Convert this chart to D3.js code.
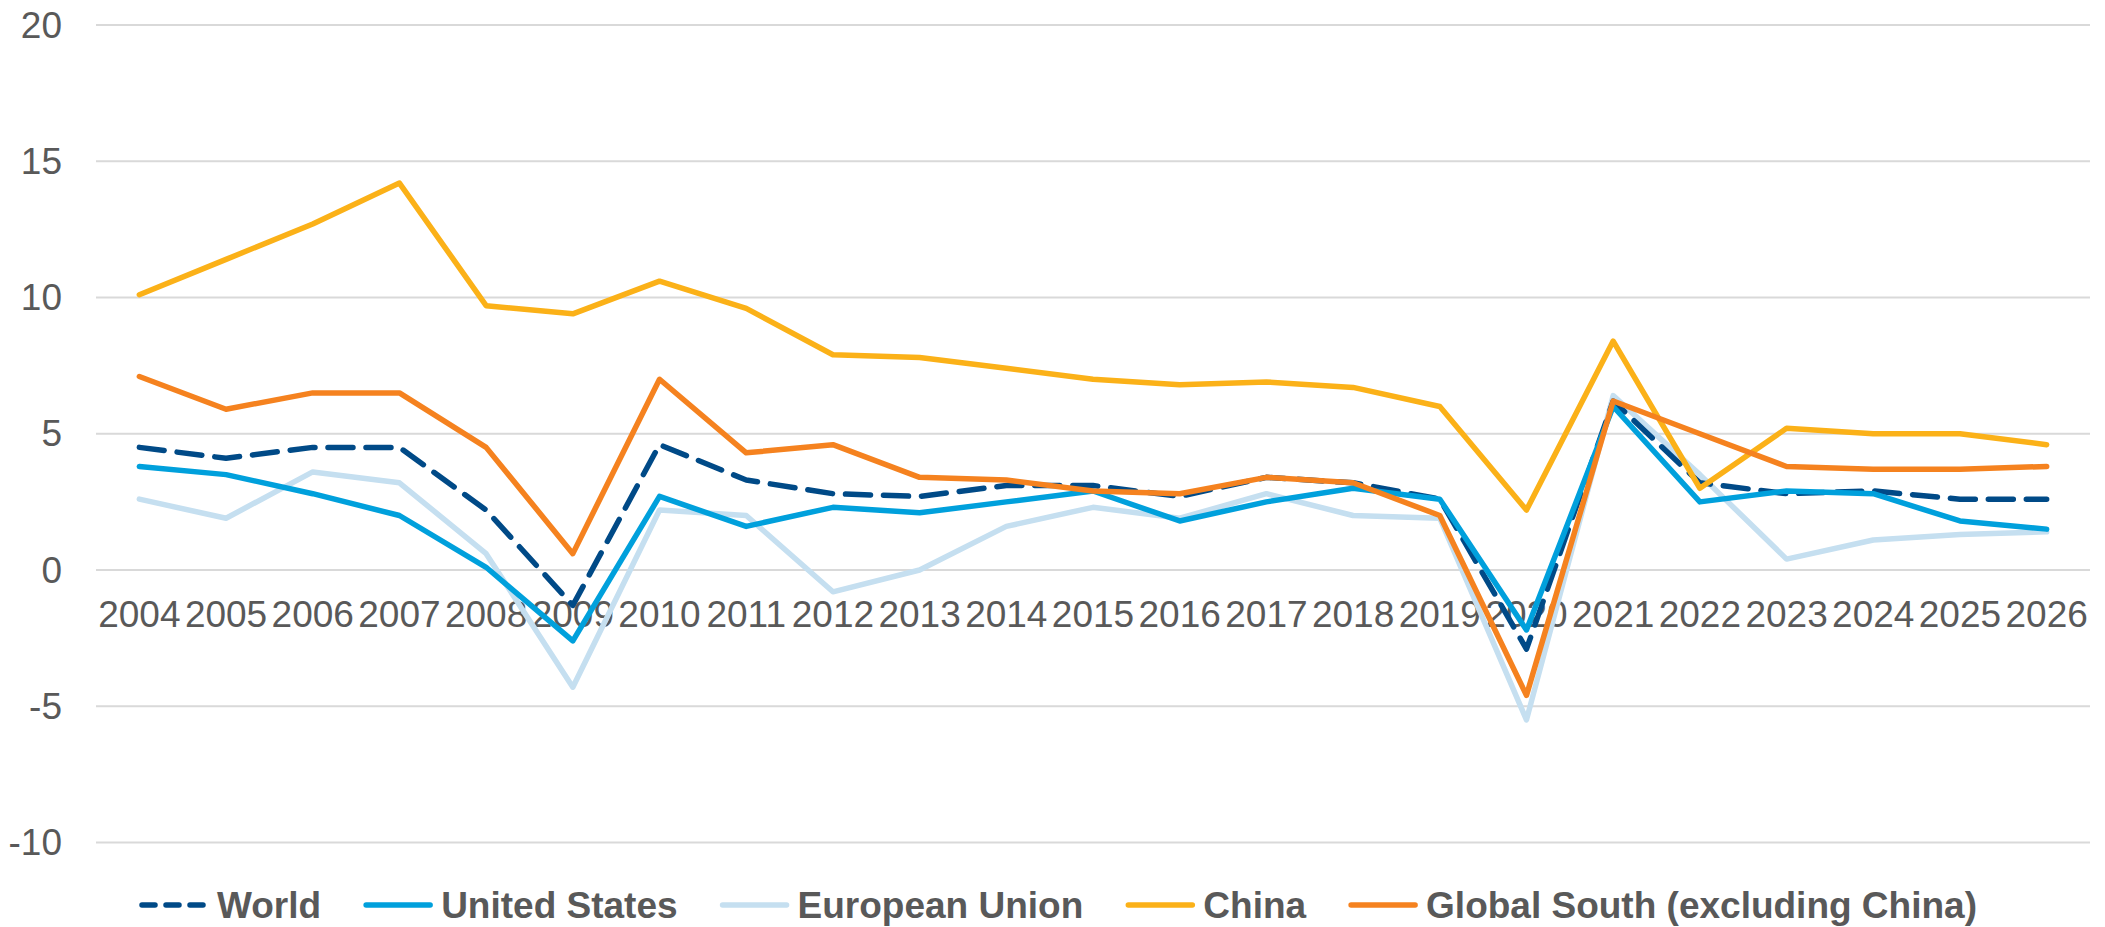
<!DOCTYPE html>
<html>
<head>
<meta charset="utf-8">
<script src="https://cdn.jsdelivr.net/npm/d3@7"></script>
<style>
  html, body { margin: 0; padding: 0; background: #fff; }
  svg { display: block; font-family: "Liberation Sans", Arial, sans-serif; }
</style>
</head>
<body>
<svg id="chart" width="2105" height="927"></svg>
<script>
// values (annual growth, %)
const years = d3.range(2004, 2027).map(String);
const world = [4.5, 4.1, 4.5, 4.5, 2.2, -1.3, 4.6, 3.3, 2.8, 2.7, 3.1, 3.1, 2.7, 3.4, 3.2, 2.6, -2.9, 6.2, 3.2, 2.8, 2.9, 2.6, 2.6];
const unitedStates = [3.8, 3.5, 2.8, 2.0, 0.1, -2.6, 2.7, 1.6, 2.3, 2.1, 2.5, 2.9, 1.8, 2.5, 3.0, 2.6, -2.2, 6.0, 2.5, 2.9, 2.8, 1.8, 1.5];
const europeanUnion = [2.6, 1.9, 3.6, 3.2, 0.6, -4.3, 2.2, 2.0, -0.8, 0.0, 1.6, 2.3, 1.9, 2.8, 2.0, 1.9, -5.5, 6.4, 3.5, 0.4, 1.1, 1.3, 1.4];
const china = [10.1, 11.4, 12.7, 14.2, 9.7, 9.4, 10.6, 9.6, 7.9, 7.8, 7.4, 7.0, 6.8, 6.9, 6.7, 6.0, 2.2, 8.4, 3.0, 5.2, 5.0, 5.0, 4.6];
const globalSouth = [7.1, 5.9, 6.5, 6.5, 4.5, 0.6, 7.0, 4.3, 4.6, 3.4, 3.3, 2.9, 2.8, 3.4, 3.2, 2.0, -4.6, 6.2, 5.0, 3.8, 3.7, 3.7, 3.8];
const yTicks = [20, 15, 10, 5, 0, -5, -10];

// series table (legend order); draw order is separate below
const series = [
  {name: "World", values: world, color: "#004a87", dashed: true},
  {name: "United States", values: unitedStates, color: "#00a0dc"},
  {name: "European Union", values: europeanUnion, color: "#c5dff0"},
  {name: "China", values: china, color: "#fbb118"},
  {name: "Global South (excluding China)", values: globalSouth, color: "#f5821f"}
];
const drawOrder = ["European Union", "World", "United States", "China", "Global South (excluding China)"];

const svg = d3.select("#chart");
const plotLeft = 96, plotRight = 2090, plotTop = 25, plotBottom = 842.5;
const textColor = "#595959";

const x = d3.scaleBand().domain(years).range([plotLeft, plotRight]);
const y = d3.scaleLinear().domain([-10, 20]).range([plotBottom, plotTop]);

// gridlines
svg.append("g")
  .selectAll("line")
  .data(yTicks)
  .join("line")
  .attr("x1", plotLeft)
  .attr("x2", plotRight)
  .attr("y1", d => y(d))
  .attr("y2", d => y(d))
  .attr("stroke", "#d9d9d9")
  .attr("stroke-width", 2);

// y labels
svg.append("g")
  .selectAll("text")
  .data(yTicks)
  .join("text")
  .attr("x", 62)
  .attr("y", d => y(d) + 12.5)
  .attr("text-anchor", "end")
  .attr("font-size", 37)
  .attr("fill", textColor)
  .text(d => d);

// category labels sit just under the zero line, lines go over them
svg.append("g")
  .selectAll("text")
  .data(years)
  .join("text")
  .attr("x", d => x(d) + x.bandwidth() / 2)
  .attr("y", y(0) + 57)
  .attr("text-anchor", "middle")
  .attr("font-size", 37)
  .attr("fill", textColor)
  .text(d => d);

const line = d3.line()
  .x((d, i) => x(years[i]) + x.bandwidth() / 2)
  .y(d => y(d));

svg.append("g")
  .selectAll("path")
  .data(drawOrder.map(n => series.find(s => s.name === n)))
  .join("path")
  .attr("d", d => line(d.values))
  .attr("fill", "none")
  .attr("stroke", d => d.color)
  .attr("stroke-width", 5.5)
  .attr("stroke-linejoin", "round")
  .attr("stroke-linecap", "round")
  .attr("stroke-dasharray", d => d.dashed ? "25,13" : null);

// legend
const legend = svg.append("g");
let lx = 140;
const ly = 905;
series.forEach(function (s) {
  legend.append("line")
    .attr("x1", lx + 2)
    .attr("x2", lx + 66)
    .attr("y1", ly)
    .attr("y2", ly)
    .attr("stroke", s.color)
    .attr("stroke-width", 5.5)
    .attr("stroke-linecap", "round")
    .attr("stroke-dasharray", s.dashed ? "13,11" : null);
  const t = legend.append("text")
    .attr("x", lx + 77)
    .attr("y", ly + 12.5)
    .attr("font-size", 37)
    .attr("font-weight", "bold")
    .attr("fill", textColor)
    .text(s.name);
  lx = lx + 77 + t.node().getComputedTextLength() + 43;
});
</script>
</body>
</html>
